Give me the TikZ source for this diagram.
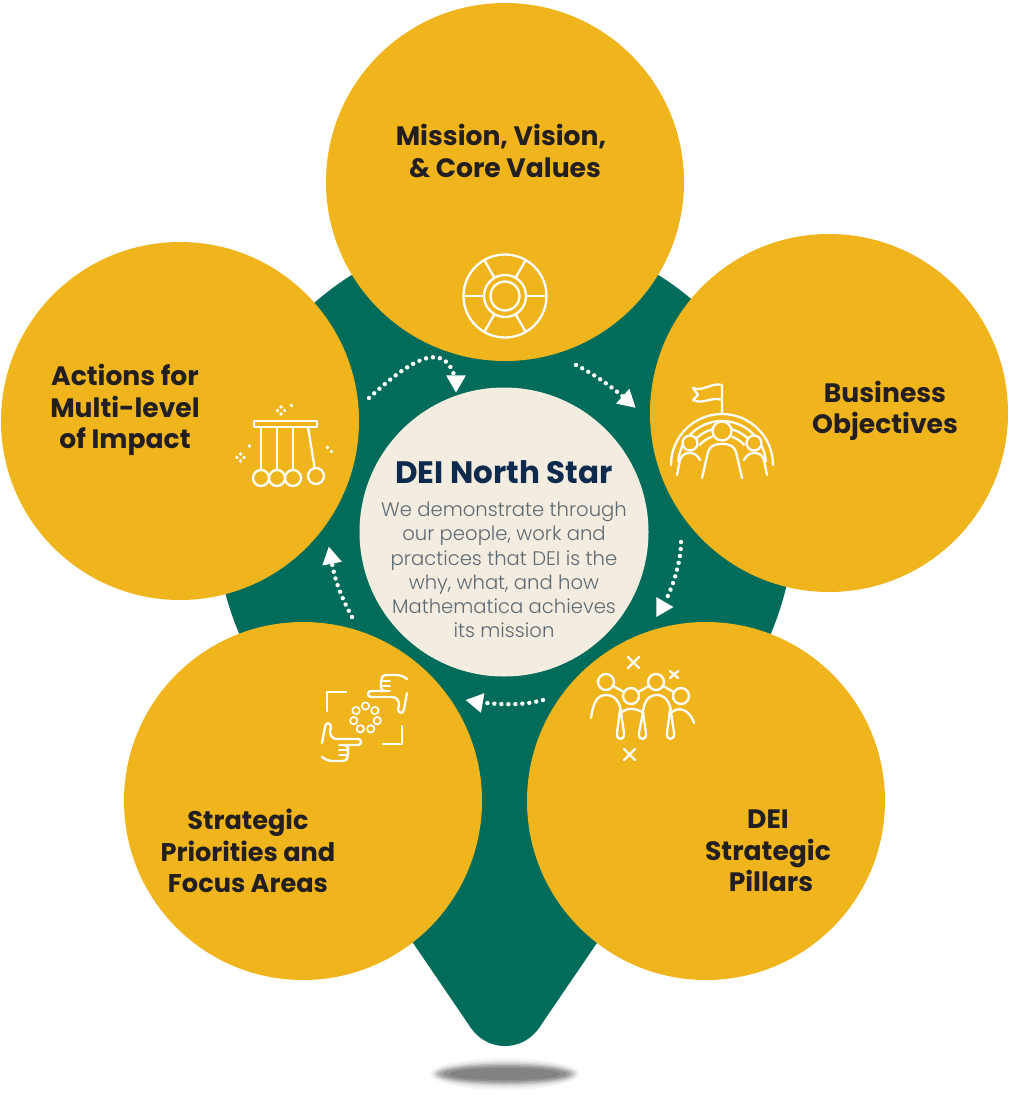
\documentclass[tikz,border=0pt]{standalone}
\usepackage{fontspec}
\setmainfont{Poppins}
\newfontfamily\bodyfont{Poppins Light}
\usepackage{xcolor}
\definecolor{pinGreen}{HTML}{026C5A}
\definecolor{petalBody}{HTML}{F0B41C}
\definecolor{hubBody}{HTML}{F3EDE1}
\definecolor{titleDark}{HTML}{231F20}
\definecolor{hubNavy}{HTML}{0E2A4D}
\definecolor{hubGrey}{HTML}{5E6A73}
\usetikzlibrary{shapes.geometric}
\usetikzlibrary{calc}
\tikzstyle{petal} = [circle, fill=petalBody, minimum size=358pt, inner sep=0pt]
\tikzstyle{hub} = [circle, fill=hubBody, minimum size=289pt, inner sep=0pt]
\tikzstyle{pinpart} = [circle, fill=pinGreen, inner sep=0pt]
\tikzstyle{caption} = [align=center, text=titleDark, font={\fontsize{26.6}{31.5}\selectfont\bfseries}]
\tikzstyle{hubtitle} = [align=center, text=hubNavy, font={\fontsize{31}{36}\selectfont\bfseries}]
\tikzstyle{hubtext} = [align=center, text=hubGrey, font={\fontsize{19.6}{24.2}\selectfont\bodyfont}]
\tikzstyle{dots} = [draw=white, line width=4.4pt, line cap=round, dash pattern=on 0pt off 7pt]
\tikzstyle{headtip} = [regular polygon, regular polygon sides=3, fill=white, minimum size=23pt, inner sep=0pt]
\tikzstyle{icon} = [draw=white, line width=2.3pt, line cap=round, line join=round]
\tikzstyle{speck} = [fill=white, circle, inner sep=0pt, minimum size=3.6pt]
\tikzstyle{ball} = [draw=white, line width=2.3pt, circle, inner sep=0pt, minimum size=16pt]
\tikzstyle{headball} = [draw=white, line width=2.3pt, circle, inner sep=0pt, minimum size=16pt]
\newcommand{\pointinghand}{%
    \draw [icon] (407,679) .. controls (403,676) and (400,675) .. (397,675) -- (386,675)
        .. controls (382,675) and (381,679) .. (381,682) -- (381,688)
        .. controls (381,690) and (383,691) .. (386,691) -- (371,691)
        .. controls (367,691) and (367,697) .. (371,697) -- (392,697)
        .. controls (397,697) and (399,701) .. (399,705) -- (398,709)
        .. controls (398,714) and (404,714) .. (404,709) -- (407,693);
    \draw [icon, line width=1.6pt] (381,681) -- (390,681);
    \draw [icon, line width=1.6pt] (381,686) -- (390,686);
    \draw [icon, line width=1.6pt] (381,691) -- (390,691);
    \draw [icon] (383,744) -- (402,744) -- (402,726);
}
\begin{document}
\begin{tikzpicture}[x=1pt, y=-1pt]
    \useasboundingbox (0,0) rectangle (1010,1100);
    % shadow under the pin
    \fill [black, opacity=0.03] (505,1074) ellipse [x radius=75, y radius=16];
    \fill [black, opacity=0.05] (505,1074) ellipse [x radius=73, y radius=14];
    \fill [black, opacity=0.08] (505,1074) ellipse [x radius=71, y radius=12];
    \fill [black, opacity=0.11] (505,1074) ellipse [x radius=69, y radius=10.5];
    \fill [black, opacity=0.13] (505,1074) ellipse [x radius=66, y radius=9];
    \fill [black, opacity=0.13] (505,1074) ellipse [x radius=62, y radius=7.5];
    \fill [black, opacity=0.10] (505,1074) ellipse [x radius=55, y radius=6];
    % pin
    \node [pinpart, minimum size=578pt] (pinhead) at (505,520) {};
    \node [pinpart, minimum size=82pt] (pintip) at (505,1005) {};
    \fill [pinGreen] (243,640) -- (302,780) -- (471,1028) -- (539,1028) -- (708,780) -- (767,640) -- cycle;
    % circles
    \node [petal] (mission) at (505,182) {};
    \node [petal] (business) at (829,413) {};
    \node [petal] (pillars) at (706,801) {};
    \node [petal] (priorities) at (303,801) {};
    \node [petal] (actions) at (180,421) {};
    \node [hub] (star) at (504,532) {};
    % dotted arrows
    \coordinate (dotsa) at (369,398);
    \coordinate (dotsb) at (576,365);
    \coordinate (dotsc) at (681,542);
    \coordinate (dotsd) at (543,700);
    \coordinate (dotse) at (352,617);
    \node [headtip, rotate=180] (heada) at (456,381) {};
    \node [headtip, rotate=-132] (headb) at (627,400) {};
    \node [headtip, rotate=-90] (headc) at (662,607) {};
    \node [headtip, rotate=80] (headd) at (477,702) {};
    \node [headtip, rotate=11] (heade) at (331,558) {};
    \draw [dots] (dotsa) .. controls (405,365) and (442,338) .. (heada);
    \draw [dots] (dotsb) .. controls (592,373) and (608,384) .. (headb);
    \draw [dots] (dotsc) .. controls (681,560) and (674,585) .. (headc);
    \draw [dots] (dotsd) .. controls (525,705) and (505,705) .. (headd);
    \draw [dots] (dotse) .. controls (343,600) and (336,585) .. (heade);
    % wheel icon
    \draw [icon] (505,296) circle [radius=41.5];
    \draw [icon] (505,296) circle [radius=21];
    \draw [icon] (505,296) circle [radius=14.5];
    \foreach \a in {0,60,120,180,240,300}
        \draw [icon] ($(505,296)+(\a:21)$) -- ($(505,296)+(\a:41.5)$);
    % flag and arcs icon
    \draw [icon] (722,413) -- (722,385) .. controls (712,382) and (703,392) .. (693,388)
        -- (698,395) -- (693,400) .. controls (703,405) and (712,396) .. (722,400);
    \draw [icon] ($(722,465)+(180:51)$) arc [start angle=180, end angle=360, radius=51];
    \draw [icon] ($(722,465)+(185:44)$) arc [start angle=185, end angle=355, radius=44];
    \draw [icon] ($(722,465)+(205:37)$) arc [start angle=205, end angle=255, radius=37];
    \draw [icon] ($(722,465)+(285:37)$) arc [start angle=285, end angle=335, radius=37];
    \draw [icon] ($(722,465)+(222:30)$) arc [start angle=222, end angle=250, radius=30];
    \draw [icon] ($(722,465)+(290:30)$) arc [start angle=290, end angle=318, radius=30];
    \node [headball, minimum size=19pt, fill=petalBody] (flaghead) at (722,431) {};
    \node [headball, minimum size=15pt, fill=petalBody] (flagleft) at (690,443) {};
    \node [headball, minimum size=15pt, fill=petalBody] (flagright) at (754,443) {};
    \draw [icon] (702,478) -- (708,452) .. controls (710,446) and (714,444) .. (722,444)
        .. controls (730,444) and (734,446) .. (736,452) -- (742,478);
    \draw [icon] (677,475) -- (680,460) .. controls (682,454) and (686,453) .. (690,453)
        .. controls (695,453) and (698,456) .. (700,460);
    \draw [icon] (767,475) -- (764,460) .. controls (762,454) and (758,453) .. (754,453)
        .. controls (749,453) and (746,456) .. (744,460);
    % team icon
    \node [headball] (teama) at (606,682) {};
    \node [headball] (teamb) at (631,696) {};
    \node [headball] (teamc) at (656,682) {};
    \node [headball] (teamd) at (681,696) {};
    \draw [icon] (teama) -- (teamb);
    \draw [icon] (teamb) -- (teamc);
    \draw [icon] (teamc) -- (teamd);
    \draw [icon] (628,657) -- (639,668) (639,657) -- (628,668);
    \draw [icon] (670,671) -- (678,678) (678,671) -- (670,678);
    \draw [icon] (624,749) -- (635,760) (635,749) -- (624,760);
    \draw [icon] (591,718) .. controls (593,703) and (597,695) .. (606,695)
        .. controls (615,695) and (620,702) .. (621,712) -- (624,733)
        .. controls (625,741) and (616,741) .. (617,733) -- (620,710);
    \draw [icon] (622,712) .. controls (626,708) and (636,708) .. (642,712);
    \draw [icon] (643,712) -- (646,733) .. controls (647,741) and (638,741) .. (639,733) -- (643,712)
        .. controls (644,702) and (648,695) .. (657,695)
        .. controls (665,695) and (670,702) .. (671,712) -- (674,733)
        .. controls (675,741) and (666,741) .. (667,733) -- (670,710);
    \draw [icon] (672,712) .. controls (678,707) and (689,708) .. (694,723);
    % frame and hands icon
    \draw [icon] (327,711) -- (327,692) -- (346,692);
    \pointinghand
    \begin{scope}[rotate around={180:(364.5,718)}]
        \pointinghand
    \end{scope}
    \foreach \a in {0,1,2,3,4,5,6}
        \draw [icon, line width=1.7pt] ($(365.5,718)+(-90+\a*51.43:12)$) circle [radius=3.7];
    % pendulum icon
    \draw [icon] (254,421) rectangle (317,427);
    \node [ball] (balla) at (261,478) {};
    \node [ball] (ballb) at (277,478) {};
    \node [ball] (ballc) at (293,478) {};
    \node [ball] (balld) at (316,476) {};
    \coordinate (hanga) at (261,427);
    \coordinate (hangb) at (277,427);
    \coordinate (hangc) at (293,427);
    \coordinate (hangd) at (308,427);
    \draw [icon] (hanga) -- (balla);
    \draw [icon] (hangb) -- (ballb);
    \draw [icon] (hangc) -- (ballc);
    \draw [icon] (hangd) -- (balld);
    \node [speck] (sparka) at (281,407) {};
    \node [speck] (sparkb) at (281,414) {};
    \node [speck] (sparkc) at (277.5,410.5) {};
    \node [speck] (sparkd) at (284.5,410.5) {};
    \node [speck] (sparke) at (291.5,405.5) {};
    \node [speck] (sparkf) at (240.5,454) {};
    \node [speck] (sparkg) at (240.5,461) {};
    \node [speck] (sparkh) at (237,457.5) {};
    \node [speck] (sparki) at (244,457.5) {};
    \node [speck] (sparkj) at (249.5,446) {};
    \node [speck] (sparkk) at (327.5,447.5) {};
    \node [speck] (sparkl) at (331.5,451.5) {};
    % texts
    \node [caption] (missiontext) at (501,151) {Mission, Vision,\\\hspace*{8pt}\& Core Values};
    \node [caption] (businesstext) at (885,411) {Business\\Objectives};
    \node [caption] (pillarstext) at (768,851) {DEI\\Strategic\\\hspace*{6pt}Pillars};
    \node [caption, font={\fontsize{25.6}{31.5}\selectfont\bfseries}] (prioritiestext) at (248,851) {Strategic\\Priorities and\\Focus Areas};
    \node [caption] (actionstext) at (125,410) {Actions for\\Multi-level\\of Impact};
    \node [hubtitle] (startitle) at (504,472) {DEI North Star};
    \node [hubtext] (startext) at (504,570) {We demonstrate through\\our people, work and\\practices that DEI is the\\why, what, and how\\Mathematica achieves\\its mission};
\end{tikzpicture}
\end{document}
